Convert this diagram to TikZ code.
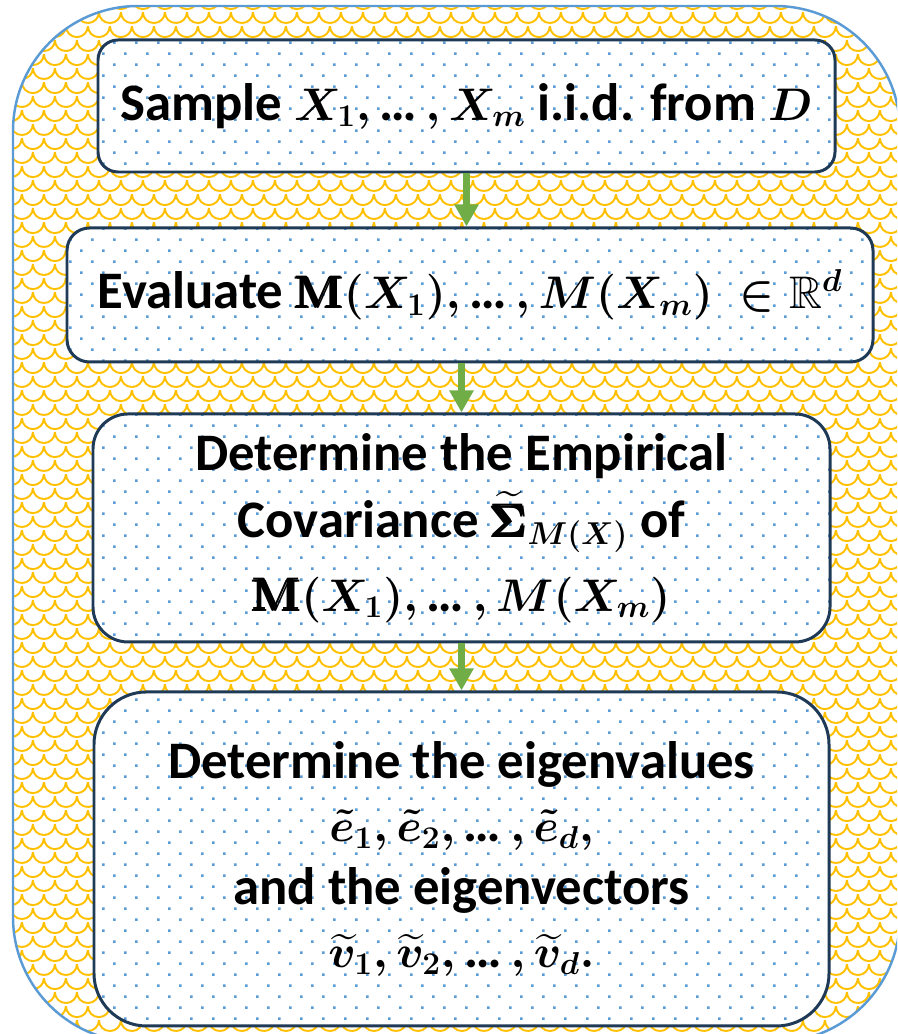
\RequirePackage{fix-cm}
\documentclass[tikz,border=0pt]{standalone}
\usepackage{amsmath, amssymb, bm}
\usepackage[no-math]{fontspec}
\setmainfont{Carlito}
\usepackage{tikz}
\usetikzlibrary{positioning, arrows.meta, patterns.meta}
\DeclareMathSizes{30}{26}{18}{13}
\definecolor{frameblue}{HTML}{5B9BD5}
\definecolor{scaleyellow}{HTML}{FFC000}
\definecolor{dotblue}{HTML}{5B9BD5}
\definecolor{boxline}{HTML}{1F3A56}
\definecolor{arrowgreen}{HTML}{70AD47}
\newcommand{\ldts}{\text{…}\,}
\newcommand{\bM}{\pmb{\mathrm{M}}}
\tikzdeclarepattern{
  name=scales, type=uncolored,
  bottom left={(0pt,0pt)}, top right={(12.47pt,15.87pt)},
  tile size={(12.47pt,15.87pt)},
  code={
    \draw[line width=1.1pt] (0pt,15.87pt) arc[start angle=180, end angle=360, radius=6.235pt];
    \draw[line width=1.1pt] (0pt,1.7pt) arc[start angle=270, end angle=360, radius=6.235pt];
    \draw[line width=1.1pt] (6.235pt,7.94pt) arc[start angle=180, end angle=270, radius=6.235pt];
  }
}
\tikzdeclarepattern{
  name=bluedots, type=uncolored,
  bottom left={(0pt,0pt)}, top right={(12.47pt,12.47pt)},
  tile size={(12.47pt,12.47pt)},
  code={
    \fill (2.4pt,2.4pt) rectangle (3.8pt,3.8pt);
    \fill (8.65pt,8.65pt) rectangle (10.05pt,10.05pt);
  }
}
\tikzset{
  frame/.style={
    draw=frameblue, line width=1.4pt,
    preaction={fill=white},
    pattern=scales, pattern color=scaleyellow
  },
  stepbox/.style={
    draw=boxline, line width=1.7pt, rectangle,
    preaction={fill=white},
    pattern=bluedots, pattern color=dotblue,
    font=\fontsize{30}{36}\selectfont\bfseries\boldmath,
    align=center, inner sep=0pt
  },
  flowarr/.style={-{Triangle[length=4.4mm, width=4.6mm]}, line width=1.4mm, arrowgreen},
}
\begin{document}
\begin{tikzpicture}
  \useasboundingbox (0,0) rectangle (17.94,-20.68);
  \clip (0,0) rectangle (17.94,-20.68);
  \path[frame, rounded corners=2.5cm] (0.26,-0.12) rectangle (18.0,-20.84);

  \node[stepbox, minimum width=14.74cm, minimum height=2.64cm, rounded corners=0.4cm]
    (sample) at (9.33,-2.12) {Sample $X_1, \ldts, X_m$ i.i.d. from $D$};
  \node[stepbox, minimum width=16.12cm, minimum height=2.68cm, rounded corners=0.45cm,
    below=1.06cm of sample, xshift=0.07cm]
    (evaluate) {Evaluate $\bM(X_1), \ldts, M(X_m)\ \in \mathbb{R}^d$};
  \node[stepbox, minimum width=14.74cm, minimum height=4.56cm, rounded corners=0.7cm,
    below=0.98cm of evaluate, xshift=-0.17cm]
    (covar) {Determine the Empirical\\[2pt]
             Covariance $\widetilde{\pmb{\Sigma}}_{M(X)}$ of\\[6pt]
             $\bM(X_1), \ldts, M(X_m)$};
  \node[stepbox, minimum width=14.70cm, minimum height=6.68cm, rounded corners=1.05cm,
    below=0.94cm of covar]
    (eigen) {Determine the eigenvalues\\
             $\tilde{e}_1, \tilde{e}_2, \ldts, \tilde{e}_d,$\\
             and the eigenvectors\\
             $\widetilde{v}_1, \widetilde{v}_2, \ldts, \widetilde{v}_d.$};

  \draw[flowarr] (sample.south) -- (sample.south |- evaluate.north);
  \draw[flowarr] (evaluate.south -| covar.north) -- (covar.north);
  \draw[flowarr] (covar.south) -- (eigen.north);
\end{tikzpicture}
\end{document}
